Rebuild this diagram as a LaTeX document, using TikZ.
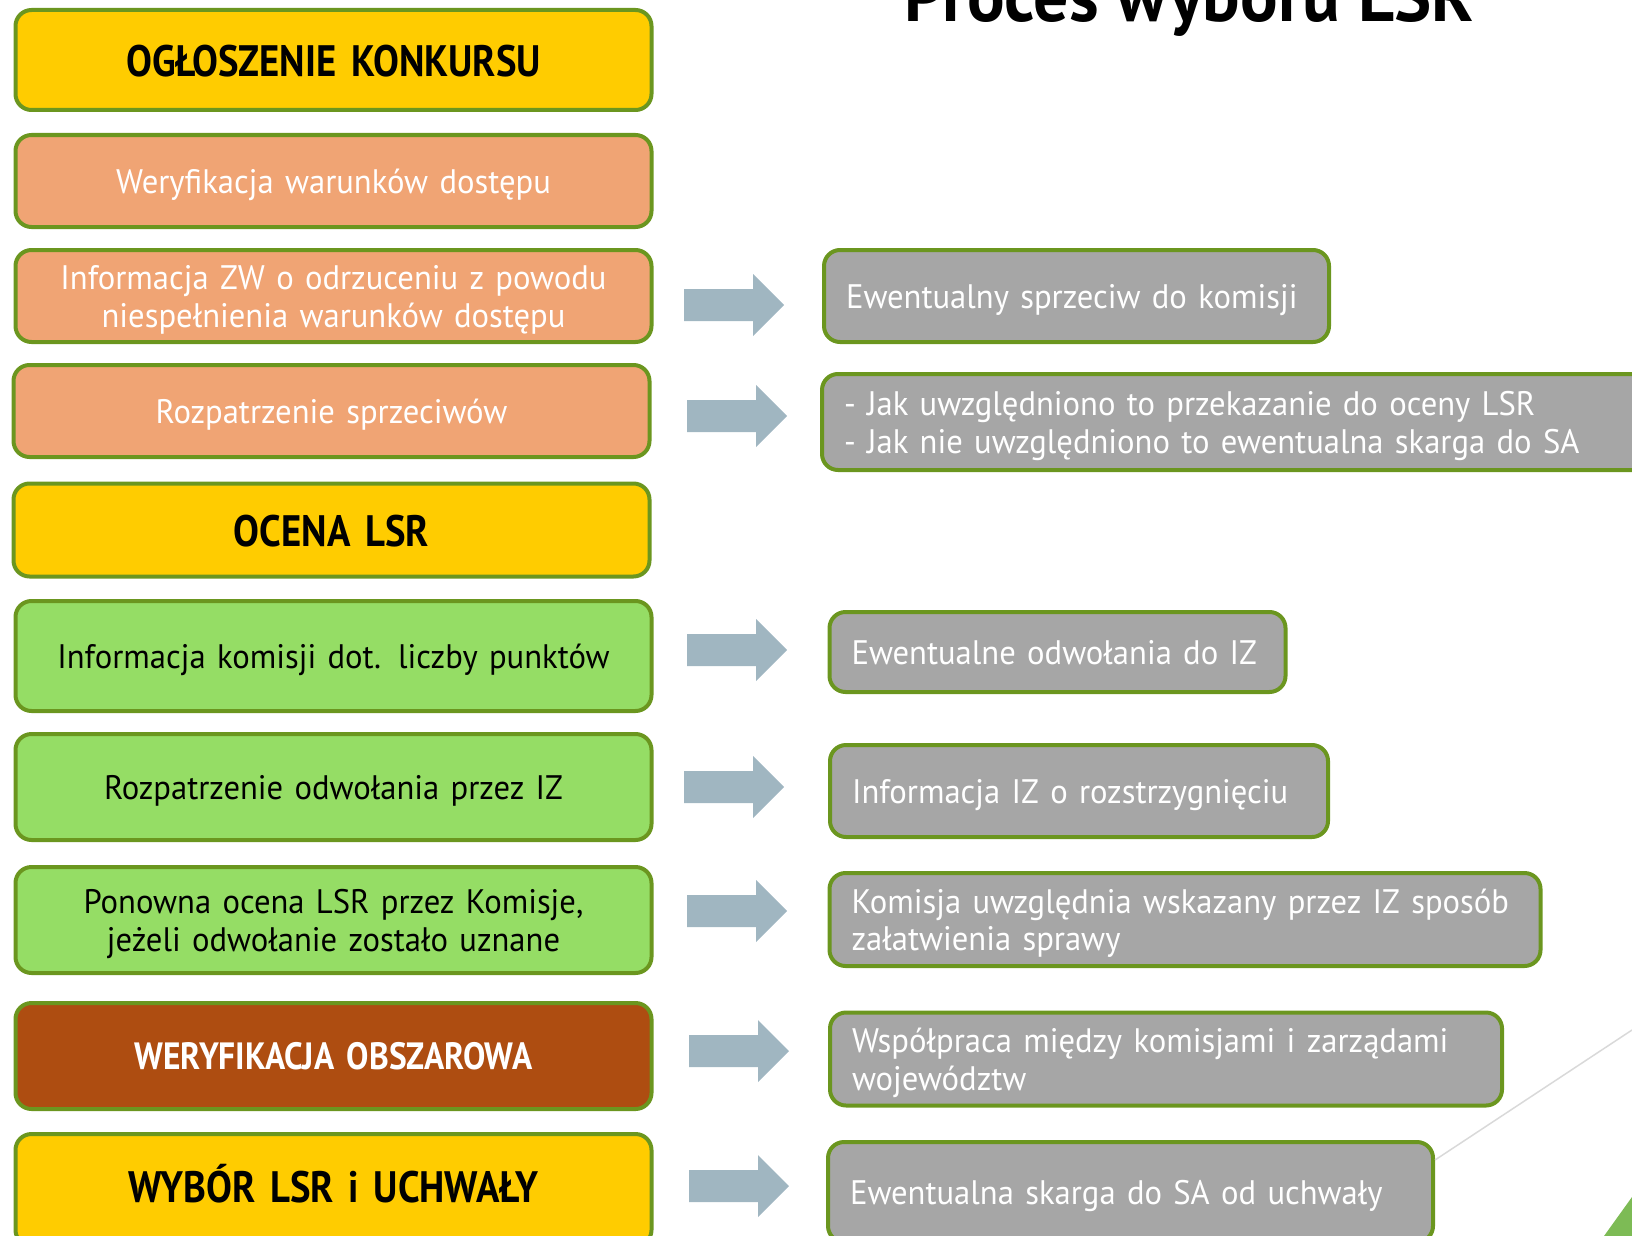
\documentclass[tikz,border=0pt]{standalone}
\usepackage{fontspec}
\setmainfont{PT Sans}[FakeStretch=0.96]
\newfontfamily\headfam{PT Sans}[FakeStretch=0.88]
\definecolor{yel}{HTML}{FFCC00}
\definecolor{salm}{HTML}{F0A474}
\definecolor{grn}{HTML}{95DD65}
\definecolor{brn}{HTML}{AE4D11}
\definecolor{gry}{HTML}{A6A6A6}
\definecolor{bordc}{HTML}{6B961F}
\definecolor{arrc}{HTML}{A0B6C1}
\definecolor{linec}{HTML}{D9D9D9}
\definecolor{tric}{HTML}{7DBB55}
\newcommand\regf{\fontsize{34}{37.5}\selectfont}
\newcommand\headf{\headfam\fontsize{44}{48}\selectfont\bfseries}
\begin{document}
\begin{tikzpicture}[x=1pt,y=-1pt,
  box/.style={draw=bordc, line width=4pt, rounded corners=16pt, inner xsep=0pt, inner ysep=0pt},
  lbox/.style={box, text width=636pt, align=center},
  yelbox/.style={lbox, fill=yel, text=black, font=\headf, text height=40pt, text depth=6.4pt},
  salbox/.style={lbox, fill=salm, text=white, font=\regf},
  grnbox/.style={lbox, fill=grn, text=black, font=\regf},
  brnbox/.style={lbox, fill=brn, text=white, font=\headfam\fontsize{38}{42}\selectfont\bfseries, text height=34pt, text depth=7.4pt},
  rbox/.style={box, fill=gry, text=white, font=\regf, inner xsep=22pt, align=left},
  oneline/.style={text height=30pt, text depth=6pt},
  twoline/.style={execute at begin node={\rule{0pt}{32pt}}},
  barrow/.pic={\fill[arrc] (0,-16) -- (69,-16) -- (69,-31) -- (100,0) -- (69,31) -- (69,16) -- (0,16) -- cycle;}
]
\useasboundingbox (0,0) rectangle (1632,1236);
\clip (0,0) rectangle (1632,1236);
% title
\node[font=\fontsize{73}{76}\selectfont\bfseries, anchor=base, inner sep=0pt] (title) at (1189,22) {Proces wyboru LSR};
% left column
\node[yelbox, minimum height=100pt] (b1) at (333.5,60) {OGŁOSZENIE KONKURSU};
\node[salbox, oneline, minimum height=92pt] (b2) at (333.5,181) {Weryfikacja warunków dostępu};
\node[salbox, twoline, minimum height=92pt] (b3) at (333.5,296) {Informacja ZW o odrzuceniu z powodu\\niespełnienia warunków dostępu};
\node[salbox, oneline, minimum height=92pt] (b4) at (331.5,411) {Rozpatrzenie sprzeciwów};
\node[yelbox, minimum height=93pt] (b5) at (331.5,530) {OCENA LSR};
\node[grnbox, oneline, minimum height=110pt] (b6) at (333.5,656) {Informacja komisji dot. liczby punktów};
\node[grnbox, oneline, minimum height=106pt] (b7) at (333.5,787) {Rozpatrzenie odwołania przez IZ};
\node[grnbox, twoline, minimum height=106pt] (b8) at (333.5,920) {Ponowna ocena LSR przez Komisje,\\jeżeli odwołanie zostało uznane};
\node[brnbox, minimum height=106pt] (b9) at (333.5,1056) {WERYFIKACJA OBSZAROWA};
\node[yelbox, text height=36pt, text depth=12pt, minimum height=112pt] (b10) at (333.5,1190) {WYBÓR LSR i UCHWAŁY};
% right column
\node[rbox, oneline, text width=461pt, minimum height=92pt] (r1) at (1076.5,296) {Ewentualny sprzeciw do komisji};
\node[rbox, twoline, text width=784pt, minimum height=96pt] (r2) at (1236,422) {- Jak uwzględniono to przekazanie do oceny LSR\\- Jak nie uwzględniono to ewentualna skarga do SA};
\node[rbox, oneline, text width=412pt, minimum height=80pt] (r3) at (1057.5,652) {Ewentualne odwołania do IZ};
\node[rbox, oneline, text width=454pt, minimum height=92pt] (r4) at (1079,791) {Informacja IZ o rozstrzygnięciu};
\node[rbox, twoline, text width=667pt, minimum height=93pt] (r5) at (1185,919.5) {Komisja uwzględnia wskazany przez IZ sposób\\załatwienia sprawy};
\node[rbox, twoline, text width=628pt, minimum height=93pt] (r6) at (1166,1059) {Współpraca między komisjami i zarządami\\województw};
\node[rbox, oneline, text width=561pt, minimum height=100pt] (r7) at (1130.5,1192) {Ewentualna skarga do SA od uchwały};
% arrows
\pic at (684,305) {barrow};
\pic at (687,416) {barrow};
\pic at (687,650) {barrow};
\pic at (684,787) {barrow};
\pic at (687,911) {barrow};
\pic at (689,1051) {barrow};
\pic at (689,1186) {barrow};
% decoration
\coordinate (lnend) at (1632,1030);
\draw[linec, line width=1.5pt] (r7.north east) ++(0,20) -- (lnend);
\fill[tric] (1604,1236) -- (1632,1197) -- (1632,1236) -- cycle;
\end{tikzpicture}
\end{document}
